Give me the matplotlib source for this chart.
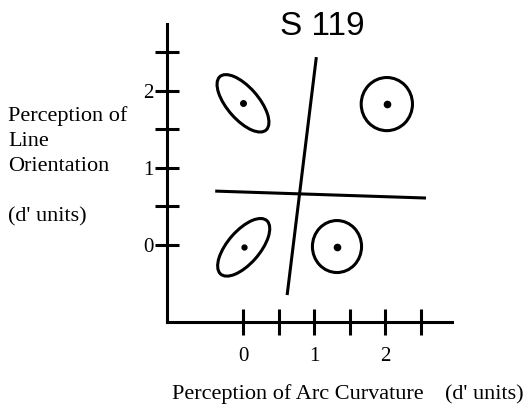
import matplotlib
matplotlib.use("Agg")
import matplotlib.pyplot as plt
from matplotlib.patches import Ellipse
from matplotlib.ticker import FixedLocator, NullFormatter

# Stimulus means (d' units): arc curvature (x) and line orientation (y)
centers_x = [0.00, 2.02, 0.01, 1.32]
centers_y = [1.84, 1.83, -0.03, -0.02]
# Confidence-ellipse full widths / heights (d' units) and tilt (degrees)
ell_width = [0.95, 0.72, 0.95, 0.69]
ell_height = [0.43, 0.69, 0.44, 0.675]
ell_angle = [-46, 0, 46, 0]
dot_size = [4.0, 4.5, 3.5, 4.5]

# Decision boundaries
bound_v_x = [1.03, 0.62]
bound_v_y = [2.44, -0.65]
bound_h_x = [-0.39, 2.57]
bound_h_y = [0.70, 0.61]

x_major = [0, 1, 2]
x_minor = [0.5, 1.5, 2.5]
y_major = [0, 1, 2]
y_minor = [0.5, 1.5, 2.5]

W, H = 526, 411
fig = plt.figure(figsize=(W / 100, H / 100), dpi=100)
ax = fig.add_axes([167 / W, 1 - 322 / H, (452 - 167) / W, (322 - 24) / H])
ax.set_xlim(-1.067, 2.935)
ax.set_ylim(-1.0, 2.87)

lw = 2.2
for s in ("top", "right"):
    ax.spines[s].set_visible(False)
for s in ("left", "bottom"):
    ax.spines[s].set_linewidth(lw)
    ax.spines[s].set_color("black")

for cx, cy, w, h, a, ds in zip(centers_x, centers_y, ell_width, ell_height,
                                ell_angle, dot_size):
    ax.add_patch(Ellipse((cx, cy), w, h, angle=a, fill=False,
                         edgecolor="black", linewidth=lw))
    ax.plot([cx], [cy], "o", color="black", markersize=ds)

ax.plot(bound_v_x, bound_v_y, color="black", linewidth=lw, solid_capstyle="butt")
ax.plot(bound_h_x, bound_h_y, color="black", linewidth=lw, solid_capstyle="butt")

ax.xaxis.set_major_locator(FixedLocator(x_major))
ax.xaxis.set_minor_locator(FixedLocator(x_minor))
ax.yaxis.set_major_locator(FixedLocator(y_major))
ax.yaxis.set_minor_locator(FixedLocator(y_minor))
ax.xaxis.set_minor_formatter(NullFormatter())
ax.yaxis.set_minor_formatter(NullFormatter())

serif = ["Liberation Serif", "DejaVu Serif"]
ax.tick_params(axis="x", which="both", direction="inout", length=19, width=lw,
               pad=8.5, labelsize=15)
ax.tick_params(axis="y", which="both", direction="inout", length=17, width=lw,
               pad=1, labelsize=15)
for lab in ax.get_xticklabels() + ax.get_yticklabels():
    lab.set_fontfamily(serif)

fig.text(322 / W, 1 - 35 / H, "S 119", ha="center", va="baseline",
         fontsize=24, family=["Liberation Sans", "DejaVu Sans"])

fig.text(8 / W, 1 - 106 / H, "Perception of\nLine\nOrientation\n\n(d' units)",
         ha="left", va="top", fontsize=16, family=serif, linespacing=1.43)

fig.text(172 / W, 1 - 399 / H, "Perception of Arc Curvature",
         ha="left", va="baseline", fontsize=16, family=serif)
fig.text(445 / W, 1 - 399 / H, "(d' units)",
         ha="left", va="baseline", fontsize=16, family=serif)

fig.savefig("out.png", dpi=100, facecolor="white")
